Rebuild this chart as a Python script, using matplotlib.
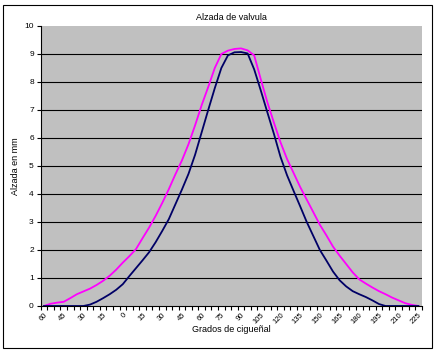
import matplotlib
matplotlib.use("Agg")
import matplotlib.pyplot as plt
from matplotlib.patches import Rectangle

plt.rcParams['font.family'] = ['Liberation Sans', 'DejaVu Sans']

# crank angle categories (degrees, 5 deg steps)
grados = [-60, -55, -50, -45, -40, -35, -30, -25, -20, -15, -10, -5, 0, 5, 10, 15,
          20, 25, 30, 35, 40, 45, 50, 55, 60, 65, 70, 75, 80, 85, 90, 95, 100, 105,
          110, 115, 120, 125, 130, 135, 140, 145, 150, 155, 160, 165, 170, 175, 180,
          185, 190, 195, 200, 205, 210, 215, 220, 225]

# magenta curve
alzada_1 = [0.0, 0.08, 0.12, 0.15, 0.28, 0.42, 0.52, 0.62, 0.75, 0.9, 1.08, 1.3, 1.55,
            1.78, 2.03, 2.42, 2.8, 3.22, 3.68, 4.17, 4.7, 5.2, 5.78, 6.45, 7.17, 7.82,
            8.5, 9.0, 9.12, 9.18, 9.2, 9.13, 8.95, 8.1, 7.28, 6.55, 5.85, 5.25, 4.75,
            4.25, 3.8, 3.35, 2.9, 2.52, 2.12, 1.8, 1.5, 1.2, 0.95, 0.8, 0.66, 0.53,
            0.42, 0.3, 0.2, 0.1, 0.04, 0.0]

# navy curve
alzada_2 = [0, 0, 0, 0, 0, 0, 0, 0.05, 0.15, 0.28, 0.42, 0.58, 0.78, 1.07, 1.35, 1.63,
            1.92, 2.28, 2.68, 3.1, 3.63, 4.16, 4.72, 5.4, 6.2, 7.0, 7.78, 8.5, 8.95,
            9.06, 9.07, 9.02, 8.45, 7.7, 6.92, 6.15, 5.33, 4.67, 4.11, 3.56, 3.0, 2.5,
            2.0, 1.62, 1.23, 0.92, 0.7, 0.53, 0.42, 0.32, 0.2, 0.07, 0, 0, 0, 0, 0, 0]

etiquetas_x = ['60', '45', '30', '15', '0', '15', '30', '45', '60', '75', '90', '105',
               '120', '135', '150', '165', '180', '195', '210', '225']

fig = plt.figure(figsize=(4.39, 3.53), dpi=100)
fig.patch.set_facecolor('white')

# outer chart border like excel
fig.add_artist(Rectangle((3 / 439, 5 / 353), 429 / 439, 343 / 353, transform=fig.transFigure,
                         fill=False, edgecolor='black', linewidth=0.8))

ax = fig.add_axes([40.7 / 439, 47 / 353, 381 / 439, 280 / 353])
ax.set_facecolor('#C0C0C0')

idx = list(range(len(grados)))
for y in range(1, 10):
    ax.axhline(y, color='black', linewidth=0.8, zorder=1)

ax.plot(idx, alzada_1, color='#FF00FF', linewidth=1.3, zorder=3)
ax.plot(idx, alzada_2, color='#000066', linewidth=1.3, zorder=3)

ax.set_xlim(-0.5, len(grados) - 0.5)
ax.set_ylim(0, 10)

ax.set_yticks(range(0, 11))
ax.tick_params(axis='y', direction='out', length=3, width=0.8, labelsize=6, pad=2)

ax.set_xticks(idx[::3])
ax.set_xticklabels(etiquetas_x, rotation=45, ha='right', va='top', rotation_mode='anchor')
ax.set_xticks([i - 0.5 for i in range(len(grados) + 1)], minor=True)
ax.tick_params(axis='x', which='major', length=0, labelsize=5.5, pad=4)
ax.tick_params(axis='x', which='minor', direction='out', length=3, width=0.8)

for s in ['top', 'right']:
    ax.spines[s].set_visible(False)
ax.spines['left'].set_linewidth(0.8)
ax.spines['bottom'].set_linewidth(0.8)

fig.text(231 / 439, 1 - 18 / 353, 'Alzada de valvula', ha='center', va='center', fontsize=6.5)
fig.text(231 / 439, 1 - 329 / 353, 'Grados de cigueñal', ha='center', va='center', fontsize=6.5)
fig.text(16 / 439, 1 - 166 / 353, 'Alzada en mm', ha='center', va='center', fontsize=6.5,
         rotation=90)

fig.savefig('out.png', dpi=100)
